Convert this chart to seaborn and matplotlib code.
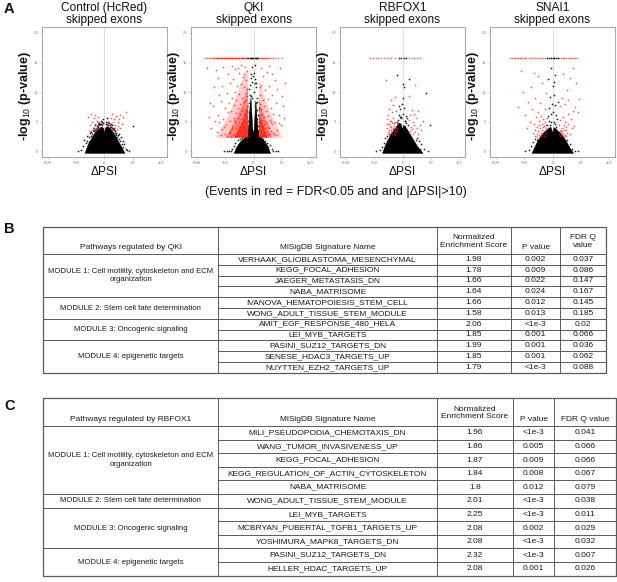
import matplotlib
matplotlib.use("Agg")
import matplotlib.pyplot as plt
import seaborn as sns

sns.set_theme(style="white")
plt.rcParams['font.family'] = ['Liberation Sans', 'DejaVu Sans']
plt.rcParams['mathtext.fontset'] = 'custom'
plt.rcParams['mathtext.rm'] = 'Liberation Sans'
plt.rcParams['mathtext.bf'] = 'Liberation Sans:bold'

# ---------------- volcano data (dPSI, -log10 p) ----------------
p_cap = 15.7

# Control (HcRed)
ctrl_core_x = [-34, -30, -25, -20, -15, -10, -5, -1.5, 0, 1.5, 5, 10, 15, 20, 25, 30, 36]
ctrl_core_y = [-0.3, 0.8, 1.8, 2.6, 3.3, 3.8, 4.1, 3.9, 2.9, 3.9, 4.2, 3.9, 3.3, 2.5, 1.6, 0.8, -0.3]
ctrl_bk_x = [-46, -41, -38, -36, -33, -31, -30, -28, -27, -26, -24, -23, -22, -21, -19, -18, -17, -16,
             -15, -14, -13, -12, -11, -10, -9, -8, -7, -6, -5, -4, -3, -2, 2, 3, 4, 5, 6, 7, 8, 9, 10,
             11, 12, 13, 14, 15, 16, 17, 18, 19, 20, 21, 22, 24, 25, 26, 28, 29, 31, 32, 33, 35, 37,
             40, 43, 50]
ctrl_bk_y = [0.0, 0.2, 0.9, 1.9, 1.4, 2.6, 1.8, 2.5, 1.6, 3.1, 2.6, 3.3, 2.9, 3.7, 3.4, 4.0, 3.6,
             4.4, 3.8, 4.3, 4.0, 4.6, 4.2, 4.8, 4.4, 4.7, 5.2, 4.6, 4.9, 4.5, 4.8, 5.4, 5.0, 4.6, 5.6,
             4.7, 5.0, 4.5, 4.8, 4.5, 4.2, 4.6, 4.2, 3.9, 4.4, 3.8, 3.6, 4.0, 3.2, 3.5, 2.8, 3.2, 2.4,
             2.8, 2.1, 3.0, 1.8, 2.4, 1.3, 1.8, 0.8, 1.3, 0.5, 0.2, 0.0, 4.3]
ctrl_red_x = [-29, -26, -24, -22, -21, -19, -17, -16, -15, -14, -13, -12, -11, -10, -25, -18, 10, 11,
              12, 13, 14, 15, 16, 17, 18, 19, 20, 22, 23, 24, 26, 28, 30, 33, 37, 27]
ctrl_red_y = [5.9, 4.4, 6.3, 5.0, 3.9, 5.6, 4.6, 6.1, 3.8, 5.2, 4.3, 5.9, 4.9, 3.9, 3.4, 4.0, 4.2, 5.6,
              4.6, 3.7, 6.3, 4.9, 4.0, 5.4, 3.6, 4.5, 6.0, 3.8, 5.0, 4.3, 5.5, 3.9, 4.7, 5.9, 6.6, 6.1]
ctrl_cap_bk = []
ctrl_cap_red = []

# QKI
qki_core_x = [-34, -28, -22, -16, -10, -8, -6, -4.5, -3, -1.5, 0, 1.5, 3, 4, 5.5, 7.5, 10, 15, 20,
              25, 30]
qki_core_y = [-0.3, 0.9, 1.7, 2.2, 2.5, 4.5, 7.5, 9.0, 6.5, 3.8, 3.0, 3.8, 6.5, 8.5, 6.5, 4.0, 2.5,
              2.2, 1.6, 0.9, -0.3]
# density zones of the red wings (outer -> inner)
qki_left_outer_x = [-10, -10, -20, -35, -50, -62, -66]
qki_left_outer_y = [2.3, 14.0, 12.0, 8.0, 5.0, 3.0, 2.3]
qki_left_mid_x = [-10, -10, -18, -28, -40, -48]
qki_left_mid_y = [2.3, 11.0, 8.5, 6.0, 3.8, 2.3]
qki_left_inner_x = [-10, -10, -14, -20, -28, -34]
qki_left_inner_y = [2.3, 8.0, 6.8, 5.0, 3.5, 2.3]
qki_right_outer_x = [10, 10, 20, 32, 45, 50]
qki_right_outer_y = [2.3, 12.0, 9.0, 6.0, 3.5, 2.3]
qki_right_mid_x = [10, 10, 17, 26, 34]
qki_right_mid_y = [2.3, 9.0, 6.5, 4.2, 2.3]
qki_right_inner_x = [10, 10, 15, 21, 25]
qki_right_inner_y = [2.3, 6.5, 5.0, 3.5, 2.3]
qki_bk_x = [-52, -46, -44, -40, -37, -35, -32, -30, -28, -26, -24, -21, -19, -15, -13, -9.5, -9,
            -8.5, -8, -7.5, -7, -6.5, -6, -5.5, -5, -4.5, -4, -3, -2, -1, 0.5, 1, 2, 3, 4, 4.5, 5,
            5.5, 6, 6.5, 7, 7.5, 8, 8.5, 9, 9.5, 11, 14, 17, 20, 23, 26, 29, 32, 35, 39, 43, -3, 2,
            -8]
qki_bk_y = [0.0, 0.1, 0.1, 0.0, 0.5, 1.0, 1.4, 0.6, 1.9, 1.3, 2.1, 2.3, 1.9, 2.6, 2.5, 3.6, 5.2,
            6.6, 8.1, 4.4, 9.6, 6.2, 11.2, 7.4, 12.4, 9.3, 13.0, 11.8, 9.0, 12.8, 10.1, 13.3, 11.5,
            12.2, 10.8, 8.2, 11.6, 9.0, 7.0, 5.4, 8.3, 4.3, 6.1, 3.4, 5.0, 7.3, 2.6, 2.4, 2.1, 1.7,
            1.5, 0.8, 1.1, 0.4, 0.0, 0.1, 0.0, 14.2, 14.6, 10.5]
qki_red_x = [-12, -13, -11, -14, -16, -17, -18, -19, -20, -21, -22, -23, -24, -25, -26, -27, -28, -29,
             -30, -31, -32, -33, -34, -35, -36, -37, -38, -39, -40, -41, -42, -43, -44, -45, -47, -48,
             -50, -51, -53, -55, -56, -58, -60, -62, -64, -66, -68, -71, -74, -78, -82, -15, -22, -33,
             -45, -28, -18, -23, -14, -12, -13,
             -10.5, -11, -11.5, -10.5, -12, -11, -10.5, -12.5, -11, -13, -14, -15, -16, -17, -16.5,
             -19, -20, -21, -22, -24, -25, -26, -27, -29, -30, -31, -33, -34, -36, -38, -39, -41, -46,
             -52, -57, -61, -70, -76, -63, -54, -38, -27, -17,
             11, 12, 13, 14, 15, 16, 17, 18, 19, 20, 21, 22, 23, 24, 25, 26, 27, 28, 29, 30, 31, 32, 33,
             35, 36, 37, 38, 40, 42, 44, 46, 48, 50, 53, 56, 20, 15, 25,
             10.5, 11, 10.5, 12, 11, 10.5, 12.5, 13, 14, 15, 16, 17, 18, 19, 21, 22, 23, 24, 26, 28,
             30, 34, 39, 45, 52, 41, 33, 27, 13, 11]
qki_red_y = [10.5, 12.0, 13.5, 9.8, 8.4, 10.9, 7.2, 12.6, 9.1, 6.9, 11.4, 8.0, 6.3, 13.2, 9.7, 7.4,
             5.6, 11.0, 8.6, 6.5, 4.9, 10.1, 7.8, 5.7, 12.3, 4.3, 9.0, 6.8, 3.6, 11.6, 5.2, 8.1, 3.1,
             6.6, 9.8, 4.5, 7.3, 2.9, 5.5, 11.1, 3.8, 8.5, 4.9, 6.2, 3.3, 13.8, 5.1, 7.6, 3.9, 5.8,
             14.0, 14.2, 14.6, 13.9, 13.0, 3.2, 4.2, 3.5, 5.8, 7.0, 4.0,
             2.6, 3.4, 4.3, 5.1, 5.9, 6.8, 7.7, 8.6, 9.4, 3.0, 4.6, 3.4, 5.1, 2.8, 6.3, 3.9, 4.8, 3.1,
             5.5, 4.1, 2.7, 5.0, 3.6, 4.4, 2.6, 3.9, 3.0, 5.3, 2.8, 4.0, 2.5, 3.3, 2.6, 4.1, 2.7, 9.6,
             10.9, 8.1, 12.4, 14.3, 14.4, 14.0, 13.0,
             8.0, 9.6, 7.1, 11.2, 6.4, 8.7, 12.8, 5.9, 7.7, 10.3, 5.2, 6.8, 13.4, 4.7, 8.9, 6.0, 3.9,
             11.0, 5.3, 7.4, 3.5, 9.5, 4.6, 6.3, 3.0, 12.1, 5.0, 8.2, 3.7, 6.1, 14.0, 4.4, 9.3, 5.6,
             11.5, 3.3, 4.1, 2.8,
             2.6, 3.5, 4.4, 5.2, 6.1, 7.0, 2.9, 4.3, 3.4, 5.3, 2.7, 3.9, 4.6, 3.0, 3.9, 2.6, 4.9, 3.3,
             4.1, 3.0, 5.0, 3.2, 2.7, 4.8, 7.6, 10.6, 13.0, 14.4, 14.0, 10.8]
qki_cap_bk = [-9, -7, -5, -3, -1, 2, 4, 6, 8]
qki_cap_red = [-86, -82, -79, -76, -73, -71, -69, -68, -66, -64, -63, -62, -60, -59, -58, -56, -55,
               -54, -52, -51, -50, -49, -47, -46, -45, -43, -42, -41, -40, -38, -37, -36, -34, -33,
               -31, -30, -29, -27, -26, -25, -24, -22, -21, -20, -18, -17, -16, -14, -13, -12, -11,
               11, 13, 15, 17, 19, 21, 22, 24, 26, 27, 30, 34, 38, 43, 50]

# RBFOX1
rb_core_x = [-35, -30, -25, -20, -15, -10, -6, -2.5, 0, 2, 5, 9, 14, 19, 24, 29, 36]
rb_core_y = [-0.3, 1.0, 2.0, 2.9, 3.6, 4.2, 4.8, 4.6, 3.7, 4.4, 4.2, 3.6, 2.8, 2.0, 1.2, 0.5, -0.3]
rb_bk_x = [-46, -40, -36, -33, -30, -27, -24, -8, -6, -4, -3, -1, 1, 3, 4, 6, 7, 8, 9, -9, -7, 0, 2,
           -10, 11, 1, 38, 33, 29, 25, 23, 31, 41, 48, 44, -2, 5, -5]
rb_bk_y = [0.0, 0.2, 0.8, 1.5, 2.2, 2.6, 2.9, 5.3, 6.2, 7.1, 5.6, 8.0, 6.4, 7.3, 5.2, 6.0, 4.8, 5.7,
           4.4, 4.9, 7.6, 9.0, 10.8, 12.9, 12.3, 11.3, 0.5, 1.2, 1.8, 2.3, 2.0, 0.4, 9.8, 4.4, 0.0,
           5.9, 5.1, 5.8]
rb_red_x = [-28, -27, -26, -25, -24, -23, -22, -21, -20, -19, -18, -17, -16, -15, -14, -13, -12, -11,
            -11, -10.5, -23, -16, -20, -14, -29, 12, 13, 14, 15, 16, 17, 18, 19, 20, 21, 22, 24, 25,
            27, 28, 30, 33, 36, 12, 22,
            -26.5, -24.5, -22.5, -20.5, -18.5, -16.5, -14.5, -12.5, -10.5, -19.5, -15.5, -13.5]
rb_red_y = [4.0, 5.5, 3.3, 6.1, 4.6, 3.6, 5.1, 4.2, 3.3, 6.6, 4.8, 3.8, 5.6, 4.3, 3.5, 5.0, 4.0, 6.9,
            3.3, 4.6, 7.2, 7.8, 8.6, 9.2, 12.0, 5.3, 3.4, 6.2, 4.2, 7.0, 3.8, 5.0, 2.9, 6.3, 4.5, 3.3,
            5.6, 4.0, 3.0, 6.8, 4.4, 3.6, 5.2, 9.4, 11.2,
            4.6, 3.0, 4.3, 3.7, 3.0, 4.0, 3.0, 3.4, 3.8, 5.2, 4.8, 2.8]
rb_cap_bk = [-7, -2, 3, 7]
rb_cap_red = [-57, -52, -47, -43, -38, -33, -28, -24, -20, -14, 12, 16, 21, 26, 31]

# SNAI1
sn_core_x = [-36, -30, -25, -20, -15, -10, -6, -3, -1, 0, 1, 3, 6, 10, 15, 20, 25, 30, 37]
sn_core_y = [-0.3, 0.9, 1.9, 2.6, 3.2, 3.6, 3.9, 4.1, 3.5, 2.7, 3.5, 4.0, 3.8, 3.4, 3.0, 2.4, 1.6,
             0.7, -0.3]
sn_bk_x = [-48, -42, -38, -34, -31, -27, -9, -8, -7, -6, -5, -4, -3, -2, -1, 0, 1, 2, 3, 4, 5, 6, 7,
           8, 9, -8, 5, -3, 2, 12, 18, 25, 30, 34, 40, 45]
sn_bk_y = [0.0, 0.2, 0.9, 1.6, 2.1, 1.9, 4.5, 6.0, 5.1, 7.3, 4.4, 9.2, 6.4, 5.0, 8.0, 11.0, 6.7, 9.6,
           5.0, 7.8, 4.6, 6.2, 4.1, 5.5, 8.4, 12.3, 12.9, 14.0, 11.8, 2.0, 1.8, 1.9, 1.2, 0.5, 0.1,
           0.0]
sn_red_x = [-34, -32, -30, -29, -28, -27, -26, -25, -24, -23, -22, -21, -20, -19, -18, -17, -16, -15,
            -14, -13, -12, -11, -10.5, -36, -40, -44, -48, -52, -38, -30, -22, -18, -14, -25, -33,
            -56, -60, -45, -12, -31, -26.5, -23.5, -20.5, -17.5, -14.5, -11.5,
            11, 12, 13, 14, 15, 16, 17, 18, 19, 20, 21, 22, 23, 24, 26, 27, 28, 30, 32, 34, 36, 38,
            40, 44, 13, 17, 22, 26, 31, 36, 41, 46, 19, 28, 12.5, 15.5, 18.5, 21.5, 24.5]
sn_red_y = [3.2, 4.6, 3.6, 5.8, 2.9, 4.2, 6.6, 3.4, 5.1, 2.7, 4.0, 6.0, 3.2, 4.7, 3.7, 5.5, 2.9, 4.3,
            3.5, 5.0, 4.0, 3.1, 5.7, 7.2, 5.0, 8.3, 6.1, 10.0, 10.8, 9.0, 8.2, 11.5, 7.1, 12.8, 13.2,
            13.6, 7.5, 4.0, 9.8, 2.6, 2.5, 4.4, 2.6, 4.1, 2.6, 4.4,
            3.0, 4.4, 3.5, 5.3, 2.7, 4.0, 3.3, 5.8, 2.9, 4.5, 3.6, 5.0, 2.6, 4.1, 3.2, 6.3, 4.6, 3.0,
            5.5, 3.9, 6.8, 4.3, 7.5, 6.6, 7.7, 9.1, 8.0, 10.4, 12.4, 14.0, 11.6, 8.8, 13.0, 8.6, 2.6,
            3.6, 2.5, 2.7, 3.7]
sn_cap_bk = [-9, -6, -3, 0, 3, 6, 9]
sn_cap_red = [-74, -71, -68, -66, -63, -60, -57, -55, -52, -49, -46, -42, -38, -35, -31, -27, -23,
              -20, -17, -14, 12, 15, 18, 21, 24, 27, 30, 33, 36, 40, 43]

panel_titles = ["Control (HcRed)\nskipped exons", "QKI\nskipped exons",
                "RBFOX1\nskipped exons", "SNAI1\nskipped exons"]

# ---------------- table data ----------------
qki_modules = ["MODULE 1: Cell motility, cytoskeleton and ECM\norganization",
               "MODULE 2: Stem cell fate determination",
               "MODULE 3: Oncogenic signaling",
               "MODULE 4: epigenetic targets"]
qki_module_rows = [4, 2, 2, 3]
qki_signatures = ["VERHAAK_GLIOBLASTOMA_MESENCHYMAL", "KEGG_FOCAL_ADHESION", "JAEGER_METASTASIS_DN",
                  "NABA_MATRISOME", "IVANOVA_HEMATOPOIESIS_STEM_CELL", "WONG_ADULT_TISSUE_STEM_MODULE",
                  "AMIT_EGF_RESPONSE_480_HELA", "LEI_MYB_TARGETS", "PASINI_SUZ12_TARGETS_DN",
                  "SENESE_HDAC3_TARGETS_UP", "NUYTTEN_EZH2_TARGETS_UP"]
qki_nes = [1.98, 1.78, 1.66, 1.64, 1.66, 1.58, 2.06, 1.85, 1.99, 1.85, 1.79]
qki_pval = ["0.002", "0.009", "0.022", "0.024", "0.012", "0.013", "<1e-3", "0.001", "0.001",
            "0.001", "<1e-3"]
qki_fdr = [0.037, 0.086, 0.147, 0.167, 0.145, 0.185, 0.02, 0.066, 0.036, 0.062, 0.088]

rb_modules = ["MODULE 1: Cell motility, cytoskeleton and ECM\norganization",
              "MODULE 2: Stem cell fate determination",
              "MODULE 3: Oncogenic signaling",
              "MODULE 4: epigenetic targets"]
rb_module_rows = [5, 1, 3, 2]
rb_signatures = ["MILI_PSEUDOPODIA_CHEMOTAXIS_DN", "WANG_TUMOR_INVASIVENESS_UP", "KEGG_FOCAL_ADHESION",
                 "KEGG_REGULATION_OF_ACTIN_CYTOSKELETON", "NABA_MATRISOME",
                 "WONG_ADULT_TISSUE_STEM_MODULE", "LEI_MYB_TARGETS", "MCBRYAN_PUBERTAL_TGFB1_TARGETS_UP",
                 "YOSHIMURA_MAPK8_TARGETS_DN", "PASINI_SUZ12_TARGETS_DN", "HELLER_HDAC_TARGETS_UP"]
rb_nes = [1.96, 1.86, 1.87, 1.84, 1.8, 2.01, 2.25, 2.08, 2.08, 2.32, 2.08]
rb_pval = ["<1e-3", "0.005", "0.009", "0.008", "0.012", "<1e-3", "<1e-3", "0.002", "<1e-3",
           "<1e-3", "0.001"]
rb_fdr = [0.041, 0.066, 0.066, 0.067, 0.079, 0.038, 0.011, 0.029, 0.032, 0.007, 0.026]

RED = "#ff1a0a"
PT = 1.6
W, H = 617, 582
fig = plt.figure(figsize=(W / 100, H / 100), dpi=100)

# overlay in pixel coordinates for tables and letters
ov = fig.add_axes([0, 0, 1, 1])
ov.set_xlim(0, W)
ov.set_ylim(H, 0)
ov.axis('off')
ov.patch.set_alpha(0)


def volcano(left, title, core_x, core_y, bk_x, bk_y, red_x, red_y, cap_bk, cap_red, zones=()):
    top, bottom, width = 27, 157.4, 125
    ax = fig.add_axes([left / W, 1 - bottom / H, width / W, (bottom - top) / H])
    ax.axvline(0, color='#dedede', lw=0.8, zorder=0)
    ax.fill(core_x, core_y, color='black', lw=0.4, zorder=1)
    sns.scatterplot(x=bk_x, y=bk_y, color='black', s=PT, linewidth=0, alpha=0.85, ax=ax, zorder=2)
    if cap_bk:
        sns.scatterplot(x=cap_bk, y=[p_cap] * len(cap_bk), color='black', s=PT, linewidth=0,
                        alpha=0.85, ax=ax, zorder=2)
    for zx, zy, za in zones:
        ax.fill(zx, zy, color=RED, lw=0, alpha=za, zorder=3)
    sns.scatterplot(x=red_x, y=red_y, color=RED, s=PT, linewidth=0, alpha=0.7, ax=ax, zorder=4)
    if cap_red:
        sns.scatterplot(x=cap_red, y=[p_cap] * len(cap_red), color=RED, s=PT, linewidth=0,
                        alpha=0.6, ax=ax, zorder=4)
    ax.set_xlim(-110, 110)
    ax.set_ylim(-1, 21)
    ax.set_xticks([-100, -50, 0, 50, 100])
    ax.set_yticks([0, 5, 10, 15, 20])
    ax.tick_params(labelsize=3, labelcolor='#808080', colors='#b0b0b0', length=1.5, width=0.4,
                   pad=1, bottom=True, left=True)
    for sp in ax.spines.values():
        sp.set_color('#a8a8a8')
        sp.set_linewidth(0.8)
    ax.set_xlabel("ΔPSI", fontsize=8.6, color='#111111')
    ax.xaxis.label.set_va('center')
    ax.xaxis.set_label_coords(0.5, -0.115)
    ax.set_ylabel("-log$_{10}$ (p-value)", fontsize=9.0, fontweight='bold', color='#111111')
    ax.yaxis.label.set_va('center')
    ax.yaxis.set_label_coords(-0.135, 0.47)
    ax.text(0.5, 1 + 13 / 130.4, title, transform=ax.transAxes, ha='center', va='center',
            fontsize=8.6, linespacing=1.0, color='#111111')
    return ax


volcano(42, panel_titles[0], ctrl_core_x, ctrl_core_y, ctrl_bk_x, ctrl_bk_y, ctrl_red_x, ctrl_red_y,
        ctrl_cap_bk, ctrl_cap_red)
volcano(191, panel_titles[1], qki_core_x, qki_core_y, qki_bk_x, qki_bk_y, qki_red_x, qki_red_y,
        qki_cap_bk, qki_cap_red,
        zones=[(qki_left_outer_x, qki_left_outer_y, 0.22), (qki_left_mid_x, qki_left_mid_y, 0.4),
               (qki_left_inner_x, qki_left_inner_y, 0.7),
               (qki_right_outer_x, qki_right_outer_y, 0.22), (qki_right_mid_x, qki_right_mid_y, 0.4),
               (qki_right_inner_x, qki_right_inner_y, 0.7)])
volcano(340, panel_titles[2], rb_core_x, rb_core_y, rb_bk_x, rb_bk_y, rb_red_x, rb_red_y,
        rb_cap_bk, rb_cap_red)
volcano(490, panel_titles[3], sn_core_x, sn_core_y, sn_bk_x, sn_bk_y, sn_red_x, sn_red_y,
        sn_cap_bk, sn_cap_red)

ov.text(336, 192, "(Events in red = FDR<0.05 and and |ΔPSI|>10)", ha='center', va='center',
        fontsize=9, color='#111111')

for letter, ly in [("A", 9), ("B", 229), ("C", 406)]:
    ov.text(4, ly, letter, ha='left', va='center', fontsize=10.5, fontweight='bold', color='#111111')


def draw_table(top, head_bottom, row_h, cols, pathway_title, fdr_title, modules, module_rows,
               sigs, nes, pval, fdr):
    lc = '#5a5a5a'
    fs = 6.0
    tc = '#1a1a1a'
    n = len(sigs)
    bottom = head_bottom + n * row_h
    ov.plot([cols[0], cols[-1], cols[-1], cols[0], cols[0]], [top, top, bottom, bottom, top],
            color=lc, lw=0.9)
    for cx in cols[1:-1]:
        ov.plot([cx, cx], [top, bottom], color=lc, lw=0.7)
    ov.plot([cols[0], cols[-1]], [head_bottom, head_bottom], color=lc, lw=0.7)
    starts = []
    r = 0
    for k in module_rows:
        starts.append(r)
        r += k
    for i in range(1, n):
        y = head_bottom + i * row_h
        x0 = cols[0] if i in starts else cols[1]
        ov.plot([x0, cols[-1]], [y, y], color=lc, lw=0.7)
    hy = head_bottom - 6.5
    mid = (top + head_bottom) / 2 + 1
    ov.text((cols[0] + cols[1]) / 2, hy, pathway_title, ha='center', va='center', fontsize=fs, color=tc)
    ov.text((cols[1] + cols[2]) / 2, hy, "MiSigDB Signature Name", ha='center', va='center',
            fontsize=fs, color=tc)
    ov.text((cols[2] + cols[3]) / 2, mid, "Normalized\nEnrichment Score", ha='center', va='center',
            fontsize=fs, color=tc, linespacing=1.15)
    ov.text((cols[3] + cols[4]) / 2, hy, "P value", ha='center', va='center', fontsize=fs, color=tc)
    if "\n" in fdr_title:
        ov.text((cols[4] + cols[5]) / 2, mid, fdr_title, ha='center', va='center', fontsize=fs,
                color=tc, linespacing=1.15)
    else:
        ov.text((cols[4] + cols[5]) / 2, hy, fdr_title, ha='center', va='center', fontsize=fs, color=tc)
    for s, k, name in zip(starts, module_rows, modules):
        yc = head_bottom + (s + k / 2) * row_h
        ov.text((cols[0] + cols[1]) / 2, yc, name, ha='center', va='center', fontsize=5.6, color=tc,
                linespacing=1.25)
    for i in range(n):
        yc = head_bottom + (i + 0.5) * row_h
        ov.text((cols[1] + cols[2]) / 2, yc, sigs[i], ha='center', va='center', fontsize=fs, color=tc)
        ov.text((cols[2] + cols[3]) / 2, yc, str(nes[i]), ha='center', va='center', fontsize=fs, color=tc)
        ov.text((cols[3] + cols[4]) / 2, yc, pval[i], ha='center', va='center', fontsize=fs, color=tc)
        ov.text((cols[4] + cols[5]) / 2, yc, str(fdr[i]), ha='center', va='center', fontsize=fs, color=tc)


draw_table(227, 254, 10.8, [43, 218, 437, 511, 560, 606], "Pathways regulated by QKI",
           "FDR Q\nvalue", qki_modules, qki_module_rows, qki_signatures, qki_nes, qki_pval, qki_fdr)
draw_table(398, 426, 13.6, [43, 218, 437, 513, 554, 616], "Pathways regulated by RBFOX1",
           "FDR Q value", rb_modules, rb_module_rows, rb_signatures, rb_nes, rb_pval, rb_fdr)

fig.savefig("out.png", dpi=100)
